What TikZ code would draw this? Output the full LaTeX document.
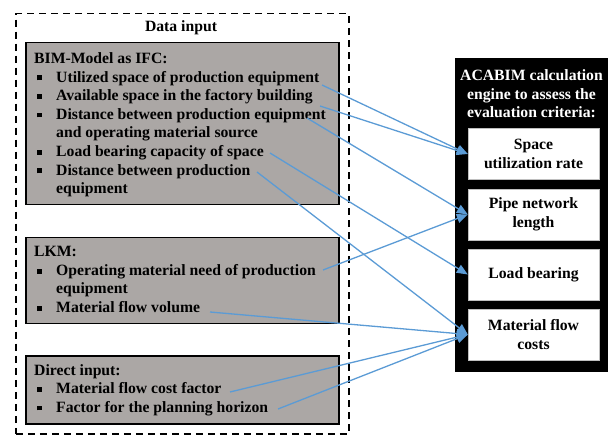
\documentclass[tikz,border=0pt]{standalone}
\usepackage{fontspec}
\setmainfont{Liberation Serif}
\usetikzlibrary{arrows.meta}
\definecolor{boxgray}{HTML}{ABA7A5}
\definecolor{arrowblue}{HTML}{5B9BD5}
\newcommand{\sqbul}{\makebox[22pt][l]{\hspace{2.5pt}\rule[1.8pt]{4.8pt}{4.8pt}}}
\begin{document}
\begin{tikzpicture}[x=1pt,y=-1pt,
  font=\fontsize{15.7}{18.6}\selectfont\bfseries,
  txt/.style={anchor=base west, inner sep=0pt},
  inbox/.style={draw=black, line width=1.5pt, fill=boxgray, anchor=north west, inner sep=0pt},
  crit/.style={draw=gray!50, fill=white, minimum width=131pt, minimum height=51pt, align=center, inner sep=0pt},
  link/.style={draw=arrowblue, line width=1.3pt, -{Triangle[length=11pt,width=9pt]}}]
\useasboundingbox (0,0) rectangle (610,435);
% outer dashed frame
\node[draw=black, line width=1.5pt, dash pattern=on 7pt off 5pt, anchor=north west,
      minimum width=333pt, minimum height=420pt, inner sep=0pt] (datain) at (15,13) {};
\node[anchor=base, inner sep=0pt] (dtitle) at (181,32) {Data input};
% gray boxes
\node[inbox, minimum width=313pt, minimum height=162pt] (bim) at (25,42) {};
\node[inbox, minimum width=313pt, minimum height=86pt] (lkm) at (25,237) {};
\node[inbox, minimum width=313pt, minimum height=68pt] (direct) at (25,355) {};
% BIM text
\node[txt] (bimh) at (34,63.5) {BIM-Model as IFC:};
\node[txt] (b1) at (34,82.1) {\sqbul Utilized space of production equipment};
\node[txt] (b2) at (34,100.7) {\sqbul Available space in the factory building};
\node[txt] (b3) at (34,119.3) {\sqbul Distance between production equipment};
\node[txt] (b3b) at (56,137.9) {and operating material source};
\node[txt] (b4) at (34,156.5) {\sqbul Load bearing capacity of space};
\node[txt] (b5) at (34,175.1) {\sqbul Distance between production};
\node[txt] (b5b) at (56,193.7) {equipment};
% LKM text
\node[txt] (lkmh) at (34,256.8) {LKM:};
\node[txt] (l1) at (34,275.4) {\sqbul Operating material need of production};
\node[txt] (l1b) at (56,294) {equipment};
\node[txt] (l2) at (34,312.6) {\sqbul Material flow volume};
% Direct text
\node[txt] (dh) at (34,375) {Direct input:};
\node[txt] (d1) at (34,393.6) {\sqbul Material flow cost factor};
\node[txt] (d2) at (34,412.2) {\sqbul Factor for the planning horizon};
% engine box
\node[fill=black, anchor=north west, minimum width=153pt, minimum height=314pt, inner sep=0pt] (engine) at (455,58) {};
\node[text=white, align=center, inner sep=0pt] (etitle) at (531.5,94) {ACABIM calculation\\engine to assess the\\evaluation criteria:};
\node[crit] (s1) at (533.5,154) {Space\\utilization rate};
\node[crit] (s2) at (533.5,214.5) {Pipe network\\length};
\node[crit] (s3) at (533.5,274.5) {Load bearing};
\node[crit] (s4) at (533.5,334.5) {Material flow\\costs};
% arrow start points
\coordinate (a1) at (322,85);
\coordinate (a2) at (320,106);
\coordinate (a3) at (307,118);
\coordinate (a4) at (270,153);
\coordinate (a5) at (257,172);
\coordinate (a6) at (323,270);
\coordinate (a7) at (210,312);
\coordinate (a8) at (230,392);
\coordinate (a9) at (278,409);
\draw[link] (a1) -- (s1.west);
\draw[link] (a2) -- (s1.west);
\draw[link] (a3) -- (s2.west);
\draw[link] (a4) -- (s3.west);
\draw[link] (a5) -- (s4.west);
\draw[link] (a6) -- (s2.west);
\draw[link] (a7) -- (s4.west);
\draw[link] (a8) -- (s4.west);
\draw[link] (a9) -- (s4.west);
\end{tikzpicture}
\end{document}
